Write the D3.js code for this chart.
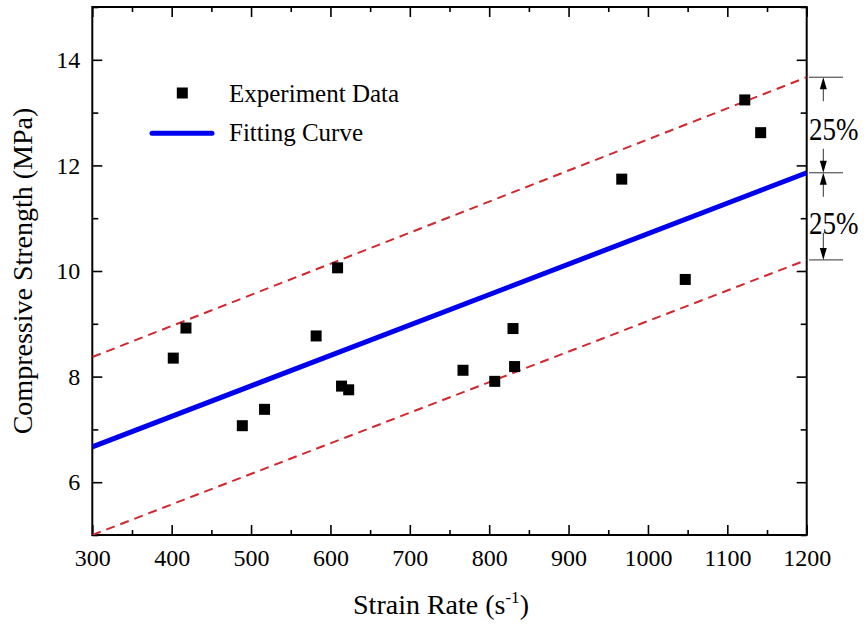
<!DOCTYPE html>
<html>
<head>
<meta charset="utf-8">
<script src="https://cdn.jsdelivr.net/npm/d3@7"></script>
<style>
  html, body { margin: 0; padding: 0; background: #fff; }
  svg { display: block; }
  svg text { font-family: "Times New Roman", "Liberation Serif", Tinos, "DejaVu Serif", serif !important; }
</style>
</head>
<body>
<svg id="chart" width="864" height="624"></svg>
<script>
// ---- Data ----
const strainRate = [402, 418, 489, 517, 582, 609, 614, 623, 767, 807, 830, 832, 967, 1047, 1122, 1142];
const strength   = [8.35, 8.92, 7.07, 7.38, 8.77, 10.06, 7.82, 7.75, 8.12, 7.91, 8.91, 8.19, 11.74, 9.84, 13.24, 12.62];

const fitX   = [300, 1200];
const fitY   = [6.67, 11.86];
const upperY = [8.37, 13.67];
const lowerY = [5.0, 10.21];

const xMajorTicks = [300, 400, 500, 600, 700, 800, 900, 1000, 1100, 1200];
const xMinorTicks = [350, 450, 550, 650, 750, 850, 950, 1050, 1150];
const yMajorTicks = [6, 8, 10, 12, 14];
const yMinorTicks = [5, 7, 9, 11, 13, 15];

const legendLabels = ["Experiment Data", "Fitting Curve"];
const bandLabel = "25%";

// ---- Layout ----
const svg = d3.select("#chart");
const L = 92.3, R = 806.7, T = 7, B = 535;
const x = d3.scaleLinear().domain([300, 1200]).range([L, R]);
const y = d3.scaleLinear().domain([5, 15]).range([B, T]);

const FONT = 24;

svg.append("defs").append("clipPath").attr("id", "clip")
  .append("rect").attr("x", L).attr("y", T).attr("width", R - L).attr("height", B - T);

// ---- Axes (ticks inward) ----
function styleAxis(g) {
  g.attr("font-family", null).attr("font-size", null);
  g.select(".domain").remove();
  g.selectAll(".tick line").attr("stroke", "#000").attr("stroke-width", 1.6);
  g.selectAll(".tick text").attr("fill", "#000").attr("font-size", FONT);
}

svg.append("g").attr("transform", `translate(0,${B})`)
  .call(d3.axisBottom(x).tickValues(xMajorTicks).tickSize(-10).tickPadding(14).tickFormat(d3.format("d")))
  .call(styleAxis);
svg.append("g").attr("transform", `translate(0,${B})`)
  .call(d3.axisBottom(x).tickValues(xMinorTicks).tickSize(-5).tickFormat(""))
  .call(styleAxis);
svg.append("g").attr("transform", `translate(0,${T})`)
  .call(d3.axisTop(x).tickValues(xMajorTicks).tickSize(-10).tickFormat(""))
  .call(styleAxis);
svg.append("g").attr("transform", `translate(0,${T})`)
  .call(d3.axisTop(x).tickValues(xMinorTicks).tickSize(-5).tickFormat(""))
  .call(styleAxis);

svg.append("g").attr("transform", `translate(${L},0)`)
  .call(d3.axisLeft(y).tickValues(yMajorTicks).tickSize(-10).tickPadding(12).tickFormat(d3.format("d")))
  .call(styleAxis);
svg.append("g").attr("transform", `translate(${L},0)`)
  .call(d3.axisLeft(y).tickValues(yMinorTicks).tickSize(-6).tickFormat(""))
  .call(styleAxis);
svg.append("g").attr("transform", `translate(${R},0)`)
  .call(d3.axisRight(y).tickValues(yMajorTicks).tickSize(-10).tickFormat(""))
  .call(styleAxis);
svg.append("g").attr("transform", `translate(${R},0)`)
  .call(d3.axisRight(y).tickValues(yMinorTicks).tickSize(-6).tickFormat(""))
  .call(styleAxis);

svg.append("rect").attr("x", L).attr("y", T).attr("width", R - L).attr("height", B - T)
  .attr("fill", "none").attr("stroke", "#000").attr("stroke-width", 2);

// ---- Lines ----
const line = d3.line().x(d => x(d[0])).y(d => y(d[1]));
const plot = svg.append("g").attr("clip-path", "url(#clip)");

plot.append("path").datum(d3.zip(fitX, upperY)).attr("d", line)
  .attr("fill", "none").attr("stroke", "#d0282e").attr("stroke-width", 2).attr("stroke-dasharray", "9,6");
plot.append("path").datum(d3.zip(fitX, lowerY)).attr("d", line)
  .attr("fill", "none").attr("stroke", "#d0282e").attr("stroke-width", 2).attr("stroke-dasharray", "9,6");
plot.append("path").datum(d3.zip(fitX, fitY)).attr("d", line)
  .attr("fill", "none").attr("stroke", "#0000ee").attr("stroke-width", 5);

// ---- Points ----
const S = 11;
svg.append("g").selectAll("rect").data(d3.zip(strainRate, strength)).join("rect")
  .attr("x", d => x(d[0]) - S / 2).attr("y", d => y(d[1]) - S / 2)
  .attr("width", S).attr("height", S).attr("fill", "#000");

// ---- Legend ----
const lg = svg.append("g");
lg.append("rect").attr("x", 182.3 - S / 2).attr("y", 93 - S / 2).attr("width", S).attr("height", S).attr("fill", "#000");
lg.append("line").attr("x1", 152).attr("x2", 212).attr("y1", 133.3).attr("y2", 133.3)
  .attr("stroke", "#0000ee").attr("stroke-width", 5).attr("stroke-linecap", "round");
lg.selectAll("text").data(legendLabels).join("text")
  .attr("x", 229).attr("y", (d, i) => 101.5 + i * 39.5)
  .attr("font-size", 25).attr("fill", "#000").text(d => d);

// ---- Axis titles ----
svg.append("text").attr("transform", `translate(32,${271}) rotate(-90)`)
  .attr("text-anchor", "middle").attr("font-size", 28).attr("fill", "#000")
  .text("Compressive Strength (MPa)");

const xt = svg.append("text").attr("x", 441).attr("y", 614)
  .attr("text-anchor", "middle").attr("font-size", 28).attr("fill", "#000");
xt.append("tspan").text("Strain Rate (s");
xt.append("tspan").attr("font-size", 17).attr("dy", -11).text("-1");
xt.append("tspan").attr("dy", 11).text(")");

// ---- 25% band annotation ----
const ann = svg.append("g");
const ax = 823.3, hx1 = 809, hx2 = 843;
const yTop = y(upperY[1]), yMid = y(fitY[1]), yBot = y(lowerY[1]);
[yTop, yMid, yBot].forEach(v => {
  ann.append("line").attr("x1", hx1).attr("x2", hx2).attr("y1", v).attr("y2", v)
    .attr("stroke", "#333").attr("stroke-width", 1);
});
function arrow(yFrom, yTip) {
  const dir = yTip > yFrom ? 1 : -1;
  ann.append("line").attr("x1", ax).attr("x2", ax).attr("y1", yFrom).attr("y2", yTip - dir * 6)
    .attr("stroke", "#333").attr("stroke-width", 1);
  ann.append("path")
    .attr("d", `M${ax},${yTip} L${ax - 3.5},${yTip - dir * 12} L${ax + 3.5},${yTip - dir * 12} Z`)
    .attr("fill", "#000");
}
arrow(yTop + 24, yTop);
arrow(yMid - 24, yMid);
arrow(yMid + 24, yMid);
arrow(yBot - 27, yBot);
[140, 234].forEach(by => {
  ann.append("text").attr("transform", `translate(809,${by}) scale(1,1.18)`)
    .attr("font-size", 27).attr("fill", "#000").text(bandLabel);
});
</script>
</body>
</html>
